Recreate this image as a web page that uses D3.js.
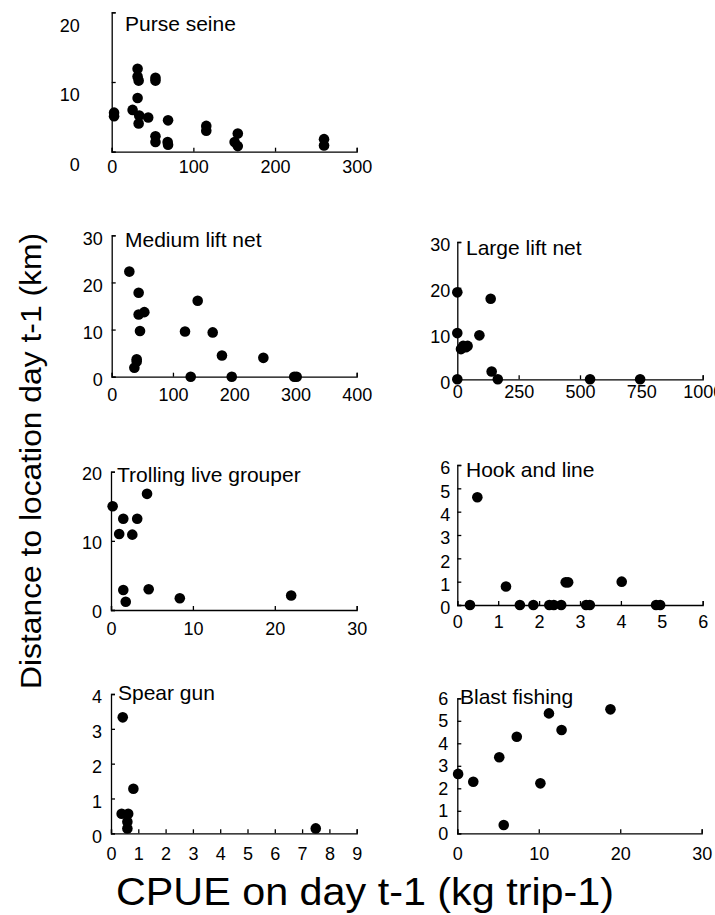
<!DOCTYPE html>
<html>
<head>
<meta charset="utf-8">
<script src="https://cdn.jsdelivr.net/npm/d3@7/dist/d3.min.js"></script>
<style>
  body { margin: 0; background: #fff; }
  svg { display: block; font-family: "Liberation Sans", Arial, sans-serif; }
</style>
</head>
<body>
<svg id="chart"></svg>
<script>
// panel names
var gearNames = ["Purse seine", "Medium lift net", "Large lift net", "Trolling live grouper",
                 "Hook and line", "Spear gun", "Blast fishing"];

// CPUE on day t-1 (kg trip-1) and distance (km)
var purseCpue = [2.9, 2.9, 31.7, 31.7, 33, 31.7, 25.6, 33.7, 33, 44.7, 53.6, 53.6, 69, 53.6, 53.6, 68.5, 69, 115.8, 115.8, 154.4, 150.5, 154.4, 260, 260];
var purseDist = [5.6, 5.1, 11.9, 10.8, 10.2, 7.7, 6.0, 5.2, 4.05, 4.9, 10.6, 10.2, 4.5, 2.2, 1.4, 1.4, 1.0, 3.7, 3.0, 2.6, 1.4, 0.8, 1.8, 0.9];

var mediumCpue = [28.8, 44, 44, 53.3, 46.2, 40.8, 40.8, 37, 119.7, 140.4, 164.9, 180, 247.6, 129, 196, 298, 302];
var mediumDist = [22.3, 17.8, 13.2, 13.7, 9.7, 3.7, 3.2, 1.9, 9.6, 16.1, 9.4, 4.5, 4.0, 0, 0, 0, 0];

var largeCpue = [0, 0, 15, 24, 42, 35, 90, 136, 140, 165, 0, 541, 745];
var largeDist = [19.0, 10.1, 6.6, 7.3, 7.3, 7.0, 9.6, 17.6, 1.7, 0, 0, 0, 0];

var trollCpue = [0.2, 1.0, 1.5, 2.6, 3.2, 4.4, 1.5, 1.8, 4.6, 8.4, 22];
var trollDist = [15.0, 11.0, 13.2, 10.9, 13.2, 16.8, 2.9, 1.2, 3.0, 1.7, 2.1];

var hookCpue = [0.49, 0.31, 1.19, 1.53, 1.86, 2.25, 2.36, 2.54, 2.65, 2.71, 3.15, 3.24, 4.02, 4.86, 4.96];
var hookDist = [4.62, 0, 0.79, 0, 0, 0, 0, 0, 0.97, 0.97, 0, 0, 1.0, 0, 0];

var spearCpue = [0.43, 0.82, 0.39, 0.63, 0.6, 0.6, 7.5];
var spearDist = [3.33, 1.28, 0.56, 0.56, 0.33, 0.14, 0.14];

var blastCpue = [0.1, 1.96, 5.15, 5.7, 7.3, 10.2, 11.25, 12.8, 18.8];
var blastDist = [2.64, 2.29, 3.38, 0.37, 4.29, 2.22, 5.33, 4.59, 5.51];

// tick values
var purseXTicks = [0, 100, 200, 300],        purseYTicks = [0, 10, 20];
var mediumXTicks = [0, 100, 200, 300, 400],  mediumYTicks = [0, 10, 20, 30];
var largeXTicks = [0, 250, 500, 750, 1000],  largeYTicks = [0, 10, 20, 30];
var trollXTicks = [0, 10, 20, 30],           trollYTicks = [0, 10, 20];
var hookXTicks = [0, 1, 2, 3, 4, 5, 6],      hookYTicks = [0, 1, 2, 3, 4, 5, 6];
var spearXTicks = [0, 1, 2, 3, 4, 5, 6, 7, 8, 9], spearYTicks = [0, 1, 2, 3, 4];
var blastXTicks = [0, 10, 20, 30],           blastYTicks = [0, 1, 2, 3, 4, 5, 6];

var xTitle = "CPUE on day t-1 (kg trip-1)";
var yTitle = "Distance to location day t-1 (km)";

function init(){
    var width = 715, height = 915;

    var svg = d3.select("svg#chart")
      .attr("width", width)
      .attr("height", height);

    svg.append("rect")
      .attr("width", width)
      .attr("height", height)
      .attr("fill", "#fff");

    // layout of each panel (pixel frame + label tweaks)
    var panels = [
      {name: gearNames[0], x: purseCpue, y: purseDist, xt: purseXTicks, yt: purseYTicks,
       left: 111.7, right: 356.7, bottom: 151.7, top: 12.3, xdom: 300, ydom: 20,
       xpad: 9, ypad: 32, yshift: 13, tx: 125, ty: 31},
      {name: gearNames[1], x: mediumCpue, y: mediumDist, xt: mediumXTicks, yt: mediumYTicks,
       left: 111.7, right: 356.7, bottom: 376.7, top: 235.3, xdom: 400, ydom: 30,
       xpad: 12, ypad: 9, yshift: 3, tx: 125, ty: 247},
      {name: gearNames[2], x: largeCpue, y: largeDist, xt: largeXTicks, yt: largeYTicks,
       left: 457.3, right: 702.7, bottom: 379.3, top: 242, xdom: 1000, ydom: 30,
       xpad: 6, ypad: 7, yshift: 3, tx: 466, ty: 255},
      {name: gearNames[3], x: trollCpue, y: trollDist, xt: trollXTicks, yt: trollYTicks,
       left: 111, right: 356.7, bottom: 610, top: 471.7, xdom: 30, ydom: 20,
       xpad: 12, ypad: 9, yshift: 2, tx: 117, ty: 482},
      {name: gearNames[4], x: hookCpue, y: hookDist, xt: hookXTicks, yt: hookYTicks,
       left: 457.3, right: 702.7, bottom: 605, top: 465, xdom: 6, ydom: 6,
       xpad: 10, ypad: 7, yshift: 3, tx: 466, ty: 477},
      {name: gearNames[5], x: spearCpue, y: spearDist, xt: spearXTicks, yt: spearYTicks,
       left: 111, right: 356.7, bottom: 833.3, top: 694, xdom: 9, ydom: 4,
       xpad: 14, ypad: 9, yshift: 3, tx: 118, ty: 700},
      {name: gearNames[6], x: blastCpue, y: blastDist, xt: blastXTicks, yt: blastYTicks,
       left: 457.3, right: 701.7, bottom: 833.3, top: 698.3, xdom: 30, ydom: 6,
       xpad: 14, ypad: 9, yshift: 0, tx: 460, ty: 704}
    ];

    var fmt = d3.format("d");

    panels.forEach(function(p){
        var g = svg.append("g");

        var x = d3.scaleLinear().domain([0, p.xdom]).range([p.left, p.right]);
        var y = d3.scaleLinear().domain([0, p.ydom]).range([p.bottom, p.top]);

        var xAxis = g.append("g")
          .attr("transform", "translate(0," + p.bottom + ")")
          .call(d3.axisBottom(x).tickValues(p.xt).tickFormat(fmt)
                .tickSizeInner(-4).tickSizeOuter(-4).tickPadding(p.xpad));

        var yAxis = g.append("g")
          .attr("transform", "translate(" + p.left + ",0)")
          .call(d3.axisLeft(y).tickValues(p.yt).tickFormat(fmt)
                .tickSizeInner(-4).tickSizeOuter(-4).tickPadding(p.ypad));

        [xAxis, yAxis].forEach(function(a){
            a.attr("font-family", null).attr("font-size", null);
            a.selectAll("path, line").attr("stroke", "#000").attr("stroke-width", 1.3);
            a.selectAll("text").attr("fill", "#000").style("font-size", "18px");
        });
        yAxis.selectAll("text").attr("y", p.yshift);

        g.selectAll("circle")
            .data(d3.zip(p.x, p.y))
          .enter().append("circle")
            .attr("cx", function(d){ return x(d[0]); })
            .attr("cy", function(d){ return y(d[1]); })
            .attr("r", 5.3)
            .attr("fill", "#000");

        g.append("text")
          .attr("x", p.tx)
          .attr("y", p.ty)
          .style("font-size", "21px")
          .text(p.name);
    });

    // axis titles
    svg.append("text")
      .attr("x", 365)
      .attr("y", 905)
      .attr("text-anchor", "middle")
      .attr("textLength", 498)
      .attr("lengthAdjust", "spacingAndGlyphs")
      .style("font-size", "38px")
      .text(xTitle);

    svg.append("text")
      .attr("transform", "translate(41,461) rotate(-90)")
      .attr("text-anchor", "middle")
      .attr("textLength", 456)
      .attr("lengthAdjust", "spacingAndGlyphs")
      .style("font-size", "30px")
      .text(yTitle);
}

init();
</script>
</body>
</html>
